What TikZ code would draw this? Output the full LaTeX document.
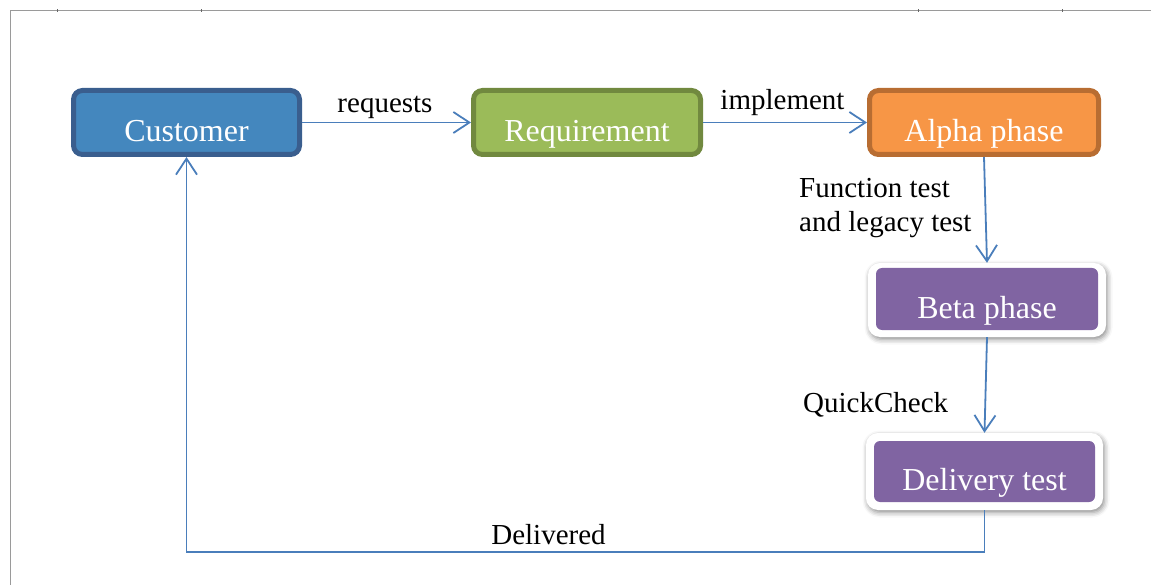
\documentclass[tikz,border=0pt]{standalone}
\usepackage{fontspec}
\setmainfont{Liberation Serif}
\usetikzlibrary{arrows.meta,shadows.blur}

\definecolor{custfill}{HTML}{4487BE}
\definecolor{custline}{HTML}{3A5E8E}
\definecolor{reqfill}{HTML}{9BBB59}
\definecolor{reqline}{HTML}{71893F}
\definecolor{alphafill}{HTML}{F79646}
\definecolor{alphaline}{HTML}{B86D32}
\definecolor{phasefill}{HTML}{8064A2}
\definecolor{flowblue}{HTML}{4A7EBB}
\definecolor{framegray}{HTML}{9A9A9A}

\tikzset{
  x=1pt, y=-1pt,
  stagebox/.style={rounded corners=9pt, line width=5pt, inner sep=0pt,
    text=white, font=\fontsize{32}{38}\selectfont,
    text height=38pt, text depth=0pt},
  phaseframe/.style={rounded corners=12pt, fill=white, draw=none,
    inner sep=0pt,
    blur shadow={shadow xshift=1.5pt, shadow yshift=-2.5pt,
      shadow blur radius=5pt, shadow opacity=45}},
  phasebox/.style={rounded corners=6pt, fill=phasefill, draw=none,
    inner sep=0pt, text=white, font=\fontsize{32}{38}\selectfont,
    text height=38pt, text depth=0pt},
  conn/.style={draw=flowblue, line width=1.8pt,
    -{Straight Barb[length=16pt, width=21pt, line width=1.8pt]}},
  edgelabel/.style={font=\fontsize{29}{34}\selectfont, inner sep=0pt},
  frameline/.style={draw=framegray, line width=1.3pt},
  tick/.style={draw=black!60, line width=1pt},
}

\begin{document}
\begin{tikzpicture}
  \useasboundingbox (0,0) rectangle (1151,585);

  % page frame with ruler ticks
  \draw[frameline] (10.5,585) -- (10.5,10.5) -- (1151,10.5);
  \foreach \tx in {57,201,918,1062}
    \draw[tick] (\tx,9.5) -- (\tx,12);

  % top row of stages
  \node[stagebox, fill=custfill, draw=custline,
        minimum width=226pt, minimum height=64pt] (cust) at (186.5,122.5) {Customer};
  \node[stagebox, fill=reqfill, draw=reqline,
        minimum width=227pt, minimum height=64pt] (req) at (587,122.5) {Requirement};
  \node[stagebox, fill=alphafill, draw=alphaline,
        minimum width=229pt, minimum height=64pt] (alpha) at (984,122.5) {Alpha phase};

  % test phases: white raised frame with a purple panel
  \node[phaseframe, minimum width=238pt, minimum height=74pt] (betaf) at (987,300) {};
  \node[phasebox, minimum width=222pt, minimum height=62pt] (beta) at (987,299) {Beta phase};
  \node[phaseframe, minimum width=237pt, minimum height=77pt] (delf) at (984.5,471.5) {};
  \node[phasebox, minimum width=221pt, minimum height=61pt] (del) at (984.5,471.5) {Delivery test};

  % connectors
  \coordinate (loopy) at (0,552);
  \draw[conn] (cust) -- (req);
  \draw[conn] (req) -- (alpha);
  \draw[conn] (alpha.south) -- (betaf.north);
  \draw[conn] (betaf.south) -- (delf.north);
  \draw[conn] (delf.south) -- (delf.south |- loopy) -| (cust.south);

  % connector labels
  \node[edgelabel, anchor=base] (lreq) at (385,113) {requests};
  \node[edgelabel, anchor=base] (limp) at (782.5,110) {implement};
  \node[edgelabel, anchor=base west] (lfun1) at (799,198) {Function test};
  \node[edgelabel, anchor=base west] (lfun2) at (799,232) {and legacy test};
  \node[edgelabel, anchor=base west] (lqc) at (803,412) {QuickCheck};
  \node[edgelabel, anchor=base] (ldel) at (548.5,544) {Delivered};
\end{tikzpicture}
\end{document}
